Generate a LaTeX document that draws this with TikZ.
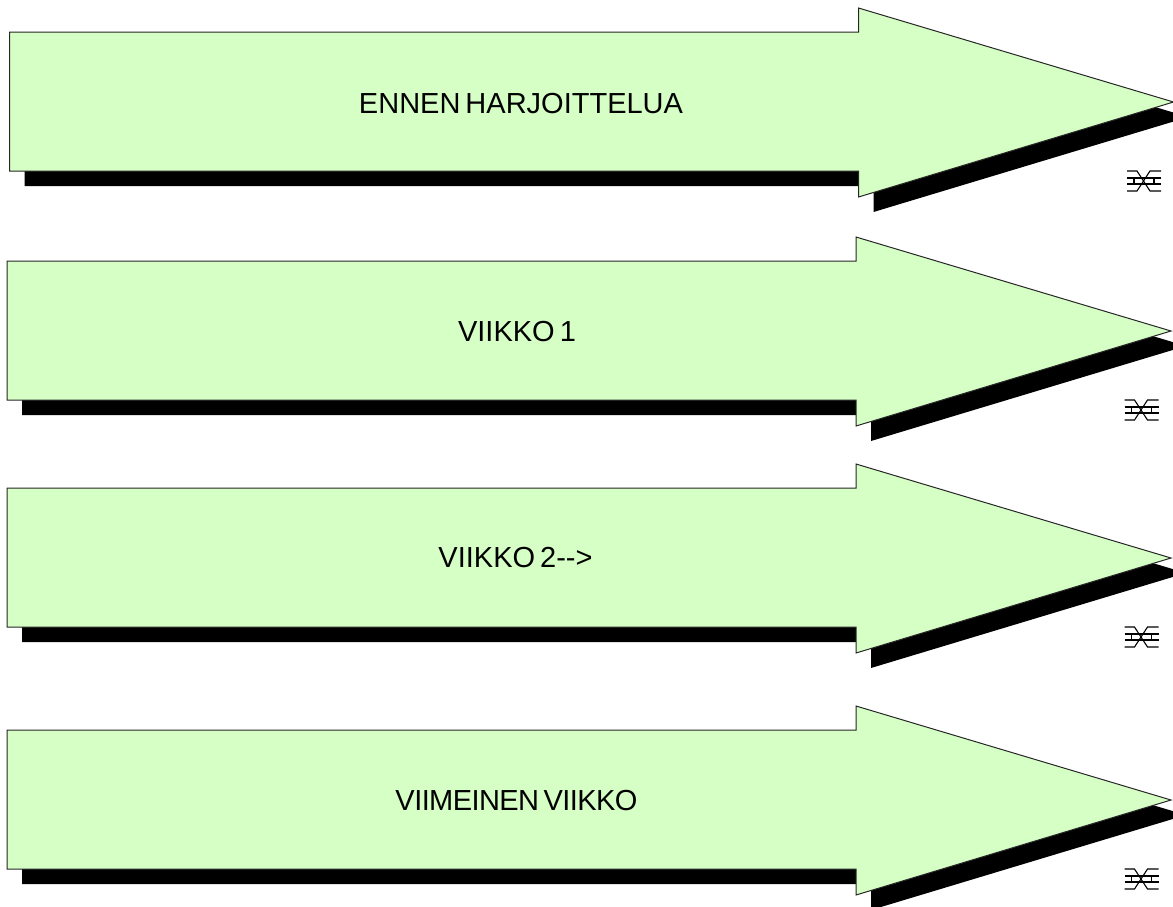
\documentclass[tikz,border=0pt]{standalone}
\usepackage{fontspec}
\setmainfont[WordSpace=0.62]{Liberation Sans}
\definecolor{arrowgreen}{RGB}{214,255,198}
\tikzset{
	weekarrow/.style={draw=black!85, line width=1pt, fill=arrowgreen, line join=miter},
	weekshadow/.style={fill=black, draw=none},
	weeklabel/.style={font=\fontsize{29}{34}\selectfont, inner sep=0pt},
	markline/.style={draw=black, line width=1.1pt}
}
% one arrow with its shadow and the small mark under the tip
\newcommand{\weekblock}[5]{
	\begin{scope}[shift={(#1,#2)}]
		\fill[weekshadow] (15,15) -- (864,15) -- (864,-9) -- (1179,85) -- (864,180) -- (864,154) -- (15,154) -- cycle;
		\draw[weekarrow] (0,0) -- (849,0) -- (849,-24) -- (1164,70) -- (849,165) -- (849,139) -- (0,139) -- cycle;
		\node[weeklabel] (#3) at (#4) {#5};
		% the mark
		\draw[markline] (1117.5,139) -- (1127.5,139) -- (1140.5,159) -- (1151.5,159);
		\draw[markline] (1117.5,159) -- (1127.5,159) -- (1140.5,139) -- (1151.5,139);
		\draw[markline] (1117.5,146) -- (1151.5,146) (1117.5,152) -- (1151.5,152);
		\draw[markline] (1124.5,146) -- (1124.5,152) (1144.5,146) -- (1144.5,152);
	\end{scope}
}
\begin{document}
\begin{tikzpicture}[x=1pt,y=-1pt]
	\useasboundingbox (0,0) rectangle (1173,906);
	\weekblock{9.5}{32}{ennen}{511.5,71.5}{ENNEN HARJOITTELUA}
	\weekblock{7}{261}{viikkoA}{510,71}{VIIKKO 1}
	\weekblock{7}{488}{viikkoB}{508.5,69.5}{VIIKKO 2-{}->}
	\weekblock{7}{730}{viimeinen}{509.5,71}{\addfontfeature{LetterSpace=-2}VIIMEINEN VIIKKO}
\end{tikzpicture}
\end{document}
